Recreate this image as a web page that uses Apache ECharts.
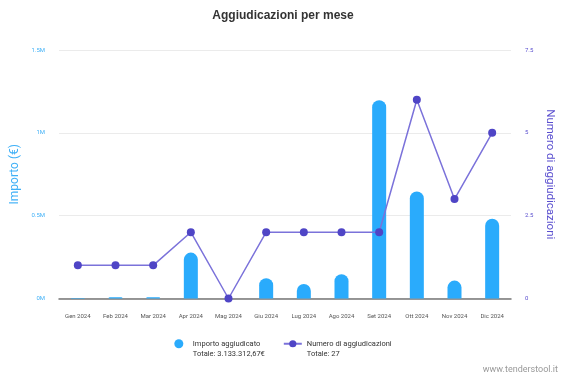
<!DOCTYPE html>
<html>
<head>
<meta charset="utf-8">
<script src="https://cdn.jsdelivr.net/npm/echarts@6/dist/echarts.min.js"></script>
<style>
  html, body { margin: 0; padding: 0; background: #fff; }
  #chart { width: 566px; height: 378px; }
</style>
</head>
<body>
<div id="chart"></div>
<script>
// mesi 2024
var mesi = ['Gen 2024','Feb 2024','Mar 2024','Apr 2024','Mag 2024','Giu 2024','Lug 2024','Ago 2024','Set 2024','Ott 2024','Nov 2024','Dic 2024'];
// importo aggiudicato (€)
var importi = [3000, 8000, 7000, 277000, 0, 122000, 88000, 146000, 1197000, 646000, 108000, 481000];
// numero di aggiudicazioni
var numero = [1, 1, 1, 2, 0, 2, 2, 2, 2, 6, 3, 5];
var totaleImporto = '3.133.312,67€';
var totaleNumero = 27;

var myChart = echarts.init(document.getElementById('chart'));
var option = {
    animation: false,
    textStyle: { fontFamily: 'Roboto, "Liberation Sans", sans-serif' },
    title: {
        text: 'Aggiudicazioni per mese',
        left: 'center',
        top: 5,
        textStyle: { fontSize: 12, fontWeight: 'bold', color: '#333', fontFamily: '"Liberation Sans", Arial, sans-serif' }
    },
    legend: {
        top: 323,
        left: 'center',
        itemGap: 18,
        itemWidth: 18,
        itemHeight: 9,
        textStyle: { fontSize: 7.5, color: '#333', lineHeight: 10.5 },
        data: [
            { name: 'Importo aggiudicato', icon: 'circle' },
            { name: 'Numero di aggiudicazioni' }
        ],
        // riga vuota in testa: così l'icona resta allineata alla prima riga
        formatter: function (name) {
            if (name == 'Importo aggiudicato') return ' \n' + name + '\nTotale: ' + totaleImporto;
            return ' \n' + name + '\nTotale: ' + totaleNumero;
        }
    },
    graphic: [{
        type: 'text',
        right: 8,
        bottom: 4,
        style: { text: 'www.tenderstool.it', fontSize: 9, fill: '#999', fontFamily: 'Roboto, sans-serif' }
    }],
    grid: { left: 59, right: 55, top: 50, bottom: 79.5 },
    xAxis: {
        type: 'category',
        data: mesi,
        axisLine: { lineStyle: { color: '#777', width: 1.5 } },
        axisTick: { show: false },
        axisLabel: { fontSize: 6, color: '#555', margin: 15 }
    },
    yAxis: [
        {
            type: 'value',
            min: 0, max: 1500000, interval: 500000,
            name: 'Importo (€)',
            nameLocation: 'middle',
            nameGap: 34,
            nameTextStyle: { color: '#3fb0f7', fontSize: 12 },
            axisLine: { show: false },
            axisTick: { show: false },
            axisLabel: {
                fontSize: 6, color: '#3fb0f7', margin: 14,
                formatter: function (v) { return (v / 1000000) + 'M'; }
            },
            splitLine: { lineStyle: { color: '#ebebeb' } }
        },
        {
            type: 'value',
            min: 0, max: 7.5, interval: 2.5,
            name: 'Numero di aggiudicazioni',
            nameLocation: 'middle',
            nameGap: 32,
            nameRotate: -90,
            nameTextStyle: { color: '#5a4fcf', fontSize: 11.5 },
            axisLine: { show: false },
            axisTick: { show: false },
            axisLabel: { fontSize: 6, color: '#5a4fcf', margin: 14 },
            splitLine: { show: false }
        }
    ],
    series: [
        {
            name: 'Importo aggiudicato',
            type: 'bar',
            yAxisIndex: 0,
            data: importi,
            barWidth: 14,
            itemStyle: { color: '#2aabfc', borderRadius: [7, 7, 0, 0] }
        },
        {
            name: 'Numero di aggiudicazioni',
            type: 'line',
            yAxisIndex: 1,
            data: numero,
            symbol: 'circle',
            symbolSize: 8,
            itemStyle: { color: '#4f45c6' },
            lineStyle: { color: '#7b72da', width: 1.5 }
        }
    ]
};
myChart.setOption(option);
</script>
</body>
</html>
